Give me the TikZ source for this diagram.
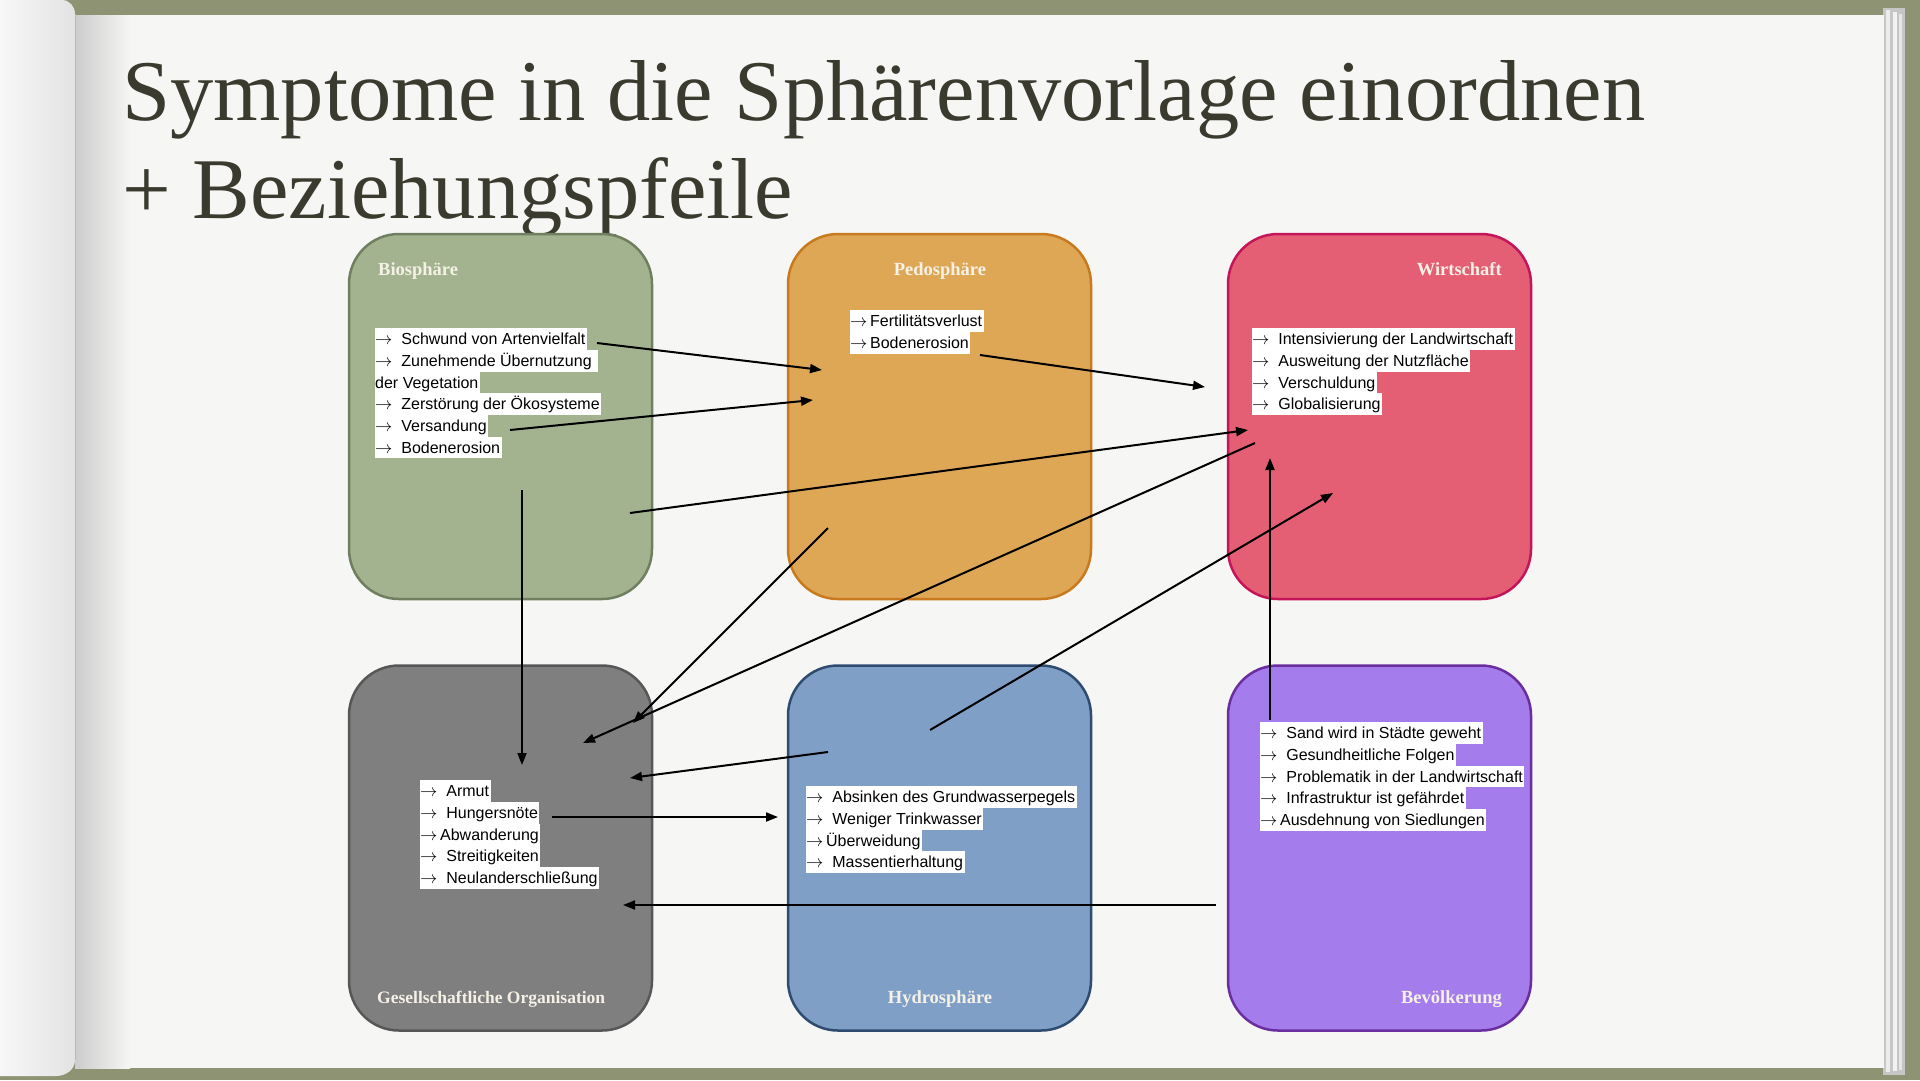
\documentclass[tikz,border=0pt]{standalone}
\usepackage{fontspec}
\setmainfont{Liberation Serif}
\setsansfont{Liberation Sans}
\usetikzlibrary{arrows.meta}
\setlength\fboxsep{0pt}
\setlength\lineskiplimit{-2pt}
\newcommand\hlline[1]{\colorbox{white}{\rule[-5.2pt]{0pt}{21.7pt}#1\hspace{1.5pt}}}
\newcommand\ra{\ensuremath{\rightarrow}}
\definecolor{frame}{HTML}{8E9374}
\definecolor{paper}{HTML}{F6F6F4}
\definecolor{bioF}{HTML}{A3B38F}\definecolor{bioD}{HTML}{6F7F5F}
\definecolor{pedF}{HTML}{DEA755}\definecolor{pedD}{HTML}{C97A1E}
\definecolor{wirF}{HTML}{E55F74}\definecolor{wirD}{HTML}{C4145A}
\definecolor{gesF}{HTML}{7F7F7F}\definecolor{gesD}{HTML}{575757}
\definecolor{hydF}{HTML}{7F9FC6}\definecolor{hydD}{HTML}{2F4B6F}
\definecolor{bevF}{HTML}{A47CEC}\definecolor{bevD}{HTML}{6A2E9F}
\definecolor{ttl}{HTML}{3A3A2E}
\definecolor{cream}{HTML}{F5F1E6}
\begin{document}
\begin{tikzpicture}[x=1pt,y=-1pt,
  sphere/.style={rounded corners=50pt, line width=2.5pt, minimum width=303pt, minimum height=365pt, inner sep=0pt},
  boxtitle/.style={inner sep=0pt, text=cream, font=\bfseries\fontsize{18.5}{21}\selectfont},
  symlist/.style={inner sep=0pt, align=left, anchor=north west, text=black, font=\sffamily\fontsize{16}{21.7}\selectfont},
  titletext/.style={inner sep=0pt, anchor=base west, text=ttl, font=\fontsize{86.5}{90}\selectfont},
  rel/.style={line width=2pt, -{Triangle[length=12pt,width=9pt]}}]
\useasboundingbox (0,0) rectangle (1920,1080);
% background: book
\fill[frame] (0,0) rectangle (1920,1080);
\fill[gray!45] (1883,8) rectangle (1905,1075);
\fill[gray!15] (1886,10) rectangle (1890,1072);
\fill[gray!10] (1893,12) rectangle (1897,1071);
\fill[gray!20] (1899,14) rectangle (1902,1070);
\fill[paper] (75,15) rectangle (1884,1068);
\shade[left color=gray!40, right color=paper] (75,15) rectangle (130,1068);
\shade[left color=gray!6, right color=gray!22] (0,0) -- (62,0) to[out=0,in=90] (75,14) -- (75,1060) to[out=-90,in=0] (56,1076) -- (0,1076) -- cycle;
\draw[gray!55, line width=1pt] (75,14) -- (75,1060);
% title
\node[titletext] (title1) at (122,120) {Symptome in die Sphärenvorlage einordnen};
\node[titletext] (title2) at (122,218) {+ Beziehungspfeile};
% spheres
\node[sphere, fill=bioF, draw=bioD] (bio) at (500.5,416.5) {};
\node[sphere, fill=pedF, draw=pedD] (ped) at (939.5,416.5) {};
\node[sphere, fill=wirF, draw=wirD] (wir) at (1379.5,416.5) {};
\node[sphere, fill=gesF, draw=gesD] (ges) at (500.5,848) {};
\node[sphere, fill=hydF, draw=hydD] (hyd) at (939.5,848) {};
\node[sphere, fill=bevF, draw=bevD] (bev) at (1379.5,848) {};
% sphere titles
\node[boxtitle, anchor=base west] (tbio) at (378,275) {Biosphäre};
\node[boxtitle, anchor=base] (tped) at (940,275) {Pedosphäre};
\node[boxtitle, anchor=base east] (twir) at (1502,275) {Wirtschaft};
\node[boxtitle, anchor=base west, font=\bfseries\fontsize{17.5}{20}\selectfont] (tges) at (377,1003) {Gesellschaftliche Organisation};
\node[boxtitle, anchor=base] (thyd) at (940,1003) {Hydrosphäre};
\node[boxtitle, anchor=base east] (tbev) at (1502,1003) {Bevölkerung};
% symptom lists
\node[symlist] (lbio) at (375,328) {\hlline{\ra\ \ Schwund von Artenvielfalt}\\
  \hlline{\ra\ \ Zunehmende Übernutzung\ }\\
  \hlline{der Vegetation}\\
  \hlline{\ra\ \ Zerstörung der Ökosysteme}\\
  \hlline{\ra\ \ Versandung}\\
  \hlline{\ra\ \ Bodenerosion}};
\node[symlist] (lped) at (850,310) {\hlline{\ra\,Fertilitätsverlust}\\
  \hlline{\ra\,Bodenerosion}};
\node[symlist] (lwir) at (1252,328) {\hlline{\ra\ \ Intensivierung der Landwirtschaft}\\
  \hlline{\ra\ \ Ausweitung der Nutzfläche}\\
  \hlline{\ra\ \ Verschuldung}\\
  \hlline{\ra\ \ Globalisierung}};
\node[symlist] (lges) at (420,780) {\hlline{\ra\ \ Armut}\\
  \hlline{\ra\ \ Hungersnöte}\\
  \hlline{\ra\,Abwanderung}\\
  \hlline{\ra\ \ Streitigkeiten}\\
  \hlline{\ra\ \ Neulanderschließung}};
\node[symlist] (lhyd) at (806,786) {\hlline{\ra\ \ Absinken des Grundwasserpegels}\\
  \hlline{\ra\ \ Weniger Trinkwasser}\\
  \hlline{\ra\,Überweidung}\\
  \hlline{\ra\ \ Massentierhaltung}};
\node[symlist] (lbev) at (1260,722) {\hlline{\ra\ \ Sand wird in Städte geweht}\\
  \hlline{\ra\ \ Gesundheitliche Folgen}\\
  \hlline{\ra\ \ Problematik in der Landwirtschaft}\\
  \hlline{\ra\ \ Infrastruktur ist gefährdet}\\
  \hlline{\ra\,Ausdehnung von Siedlungen}};
% arrow end points
\coordinate (a1s) at (597,343);  \coordinate (a1e) at (822,370);
\coordinate (a2s) at (510,430);  \coordinate (a2e) at (813,400);
\coordinate (a3s) at (980,355);  \coordinate (a3e) at (1205,387);
\coordinate (a4s) at (630,513);  \coordinate (a4e) at (1248,430);
\coordinate (a5s) at (1255,443); \coordinate (a5e) at (583,743);
\coordinate (a6s) at (828,528);  \coordinate (a6e) at (633,723);
\coordinate (a7s) at (828,752);  \coordinate (a7e) at (630,778);
\coordinate (a8s) at (552,817);  \coordinate (a8e) at (778,817);
\coordinate (a9s) at (1216,905); \coordinate (a9e) at (623,905);
\coordinate (a10s) at (930,730); \coordinate (a10e) at (1333,493);
\coordinate (a11s) at (1270,720);\coordinate (a11e) at (1270,458);
\coordinate (a12s) at (522,490); \coordinate (a12e) at (522,765);
% relations
\draw[rel] (a1s) -- (a1e);
\draw[rel] (a2s) -- (a2e);
\draw[rel] (a3s) -- (a3e);
\draw[rel] (a4s) -- (a4e);
\draw[rel] (a5s) -- (a5e);
\draw[rel] (a6s) -- (a6e);
\draw[rel] (a7s) -- (a7e);
\draw[rel] (a8s) -- (a8e);
\draw[rel] (a9s) -- (a9e);
\draw[rel] (a10s) -- (a10e);
\draw[rel] (a11s) -- (a11e);
\draw[rel] (a12s) -- (a12e);
\end{tikzpicture}
\end{document}
